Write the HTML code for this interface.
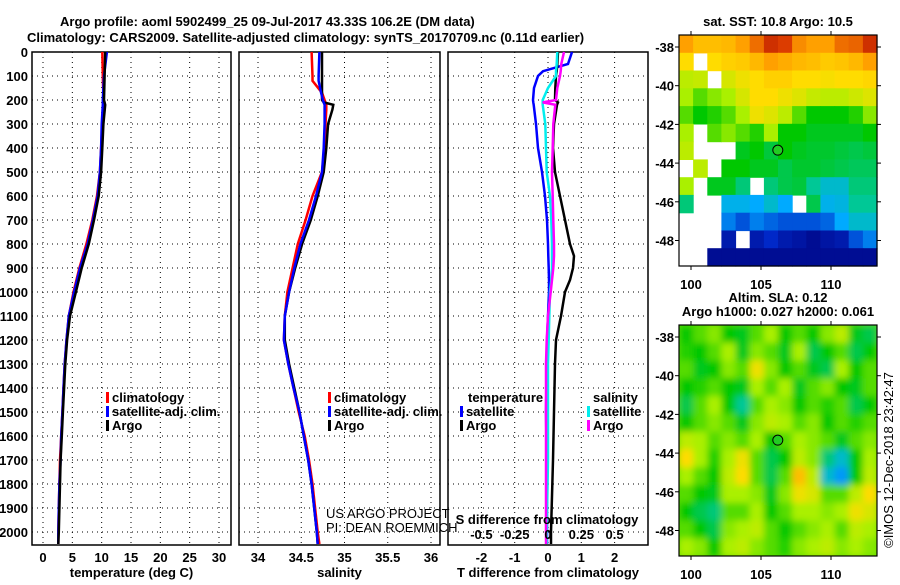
<!DOCTYPE html>
<html><head><meta charset="utf-8"><style>
body{margin:0;background:#fff;width:900px;height:580px;overflow:hidden}
svg text{font-family:"Liberation Sans",sans-serif;font-weight:bold;font-size:13px;fill:#000}
svg text.norm{font-weight:normal}
</style></head><body>
<svg id="c" width="900" height="580" xmlns="http://www.w3.org/2000/svg">
<defs>
<filter id="blur"><feGaussianBlur stdDeviation="3.5"/></filter>
<clipPath id="clipA"><rect x="679" y="325" width="198" height="231"/></clipPath>
</defs>
<text x="60" y="26" font-size="15">Argo profile: aoml 5902499_25 09-Jul-2017 43.33S 106.2E (DM data)</text>
<text x="27" y="42" font-size="15">Climatology: CARS2009. Satellite-adjusted climatology: synTS_20170709.nc (0.11d earlier)</text>
<g id="g"></g>
</svg>
<script>
// ---------- data ----------
const depthT=[0,100,200,220,300,400,500,600,700,800,900,1000,1100,1200,1300,1400,1500,1600,1700,1800,1900,2000,2050];
const tempArgo=[10.6,10.5,10.4,10.6,10.3,10.1,9.9,9.5,8.7,7.8,6.6,5.6,4.6,4.1,3.8,3.6,3.4,3.2,3.0,2.9,2.8,2.7,2.6];
const tempClim=[10.1,10.2,10.3,10.3,10.1,9.9,9.7,9.2,8.4,7.4,6.2,5.2,4.4,4.0,3.7,3.5,3.3,3.1,2.9,2.8,2.7,2.6,2.6];
const tempSat=[10.9,10.4,10.2,10.2,10.0,9.9,9.7,9.3,8.5,7.6,6.3,5.3,4.4,4.0,3.7,3.5,3.3,3.1,3.0,2.8,2.7,2.6,2.6];
const depthS=[0,100,120,170,200,210,220,240,300,400,500,600,700,800,900,1000,1100,1200,1300,1400,1500,1600,1700,1800,1900,2000,2050];
const salArgo=[34.74,34.74,34.74,34.74,34.74,34.76,34.87,34.86,34.81,34.79,34.76,34.69,34.61,34.51,34.43,34.36,34.31,34.31,34.36,34.42,34.48,34.53,34.58,34.62,34.65,34.68,34.69];
const salClim=[34.62,34.63,34.63,34.74,34.77,34.78,34.79,34.79,34.78,34.77,34.74,34.63,34.55,34.46,34.40,34.34,34.31,34.30,34.35,34.41,34.47,34.54,34.59,34.63,34.66,34.69,34.71];
const salSat=[34.71,34.70,34.70,34.73,34.75,34.76,34.77,34.77,34.77,34.76,34.74,34.67,34.59,34.49,34.42,34.36,34.31,34.30,34.35,34.41,34.48,34.53,34.58,34.62,34.65,34.68,34.69];
const depthD=[0,50,80,100,150,200,210,220,300,400,500,600,700,800,850,900,950,1000,1100,1200,1300,1500,1700,2000,2050];
const dTsat=[0.72,0.6,-0.15,-0.3,-0.42,-0.45,-0.44,-0.43,-0.36,-0.3,-0.18,-0.09,-0.03,0,0.01,0.02,0.03,0.03,0,-0.03,-0.04,-0.06,-0.04,-0.03,-0.03];
const dTargo=[0.3,0.28,0.26,0.24,0.22,0.21,0.3,0.27,0.18,0.15,0.21,0.36,0.51,0.66,0.78,0.75,0.66,0.51,0.39,0.24,0.21,0.18,0.15,0.09,0.09];
const dSsat=[0.07,0.065,0.06,0.06,0.0,-0.04,-0.04,-0.04,-0.02,-0.015,-0.01,0.015,0.025,0.03,0.03,0.03,0.025,0.015,0.01,0.005,0.0,0.0,0.0,-0.01,-0.01];
const dSargo=[0.12,0.1,0.095,0.09,0.07,0.06,-0.04,0.055,0.04,0.035,0.03,0.035,0.04,0.045,0.045,0.04,0.03,0.02,0.0,-0.01,-0.015,-0.015,-0.015,-0.015,-0.015];
const depthTicks=[0,100,200,300,400,500,600,700,800,900,1000,1100,1200,1300,1400,1500,1600,1700,1800,1900,2000];
const tTicks=[0,5,10,15,20,25,30];
const sTicks=[34,34.5,35,35.5,36];
const dTTicks=[-2,-1,0,1,2];
const dSTicks=[-0.5,-0.25,0,0.25,0.5];
const dSTickLabels=["-0.5","-0.25","0","0.25","0.5"];
const lonTicks=[100,105,110];
const latTicks=[-38,-40,-42,-44,-46,-48];
const N=null;
const sstGrid=[
[0.8,0.75,0.75,0.76,0.8,0.85,0.92,0.9,0.82,0.8,0.8,0.85,0.86,0.92],
[0.7,N,0.7,0.72,0.73,0.76,0.8,0.78,0.76,0.75,0.73,0.74,0.76,0.8],
[0.62,0.63,N,0.65,0.68,0.7,0.72,0.72,0.7,0.7,0.69,0.7,0.7,0.71],
[0.6,0.55,0.58,0.6,0.65,0.7,0.7,0.68,0.66,0.63,0.62,0.62,0.64,0.66],
[0.55,0.5,0.52,0.55,0.6,0.68,0.66,0.62,0.55,0.5,0.5,0.5,0.52,0.58],
[0.6,N,0.55,0.58,0.55,0.52,0.6,0.5,0.5,0.48,0.48,0.48,0.48,0.5],
[0.62,N,N,N,0.48,0.5,0.46,0.5,0.48,0.47,0.47,0.46,0.45,0.46],
[N,0.62,N,0.5,0.5,0.48,0.48,0.45,0.47,0.47,0.46,0.45,0.44,0.44],
[0.6,N,0.48,0.48,0.42,N,0.42,0.45,0.46,0.4,0.35,0.35,0.42,0.42],
[0.42,N,N,0.32,0.32,0.3,0.35,0.3,N,0.45,0.32,0.33,0.4,0.4],
[N,N,N,0.25,0.2,0.25,0.22,0.2,0.2,0.2,0.22,0.3,0.35,0.35],
[N,N,N,0.1,N,0.1,0.15,0.1,0.08,0.05,0.08,0.1,0.2,0.25],
[N,N,0.05,0.05,0.05,0.05,0.05,0.05,0.05,0.05,0.05,0.05,0.05,0.05]];
const slaGrid=[
[0.5,0.55,0.58,0.5,0.48,0.55,0.6,0.5,0.55,0.5,0.58,0.62,0.48,0.45],
[0.52,0.5,0.55,0.6,0.48,0.58,0.55,0.48,0.6,0.45,0.5,0.55,0.45,0.5],
[0.55,0.48,0.5,0.58,0.55,0.68,0.58,0.5,0.55,0.48,0.45,0.6,0.5,0.55],
[0.5,0.52,0.55,0.5,0.48,0.6,0.55,0.6,0.48,0.55,0.58,0.5,0.48,0.55],
[0.45,0.55,0.6,0.5,0.4,0.55,0.6,0.58,0.5,0.55,0.52,0.55,0.45,0.5],
[0.5,0.55,0.58,0.55,0.48,0.58,0.62,0.6,0.55,0.58,0.5,0.55,0.52,0.55],
[0.62,0.6,0.55,0.58,0.55,0.6,0.5,0.55,0.6,0.58,0.55,0.48,0.55,0.58],
[0.7,0.6,0.52,0.6,0.68,0.55,0.45,0.5,0.62,0.58,0.42,0.35,0.5,0.6],
[0.6,0.55,0.5,0.62,0.7,0.55,0.45,0.55,0.75,0.62,0.35,0.28,0.5,0.62],
[0.55,0.5,0.48,0.6,0.6,0.58,0.48,0.58,0.68,0.65,0.55,0.55,0.62,0.7],
[0.5,0.45,0.42,0.55,0.55,0.6,0.5,0.55,0.6,0.6,0.58,0.6,0.68,0.65],
[0.55,0.5,0.45,0.58,0.6,0.62,0.55,0.5,0.55,0.58,0.6,0.55,0.62,0.6],
[0.6,0.58,0.5,0.6,0.62,0.58,0.55,0.52,0.58,0.6,0.62,0.58,0.6,0.58]];
const argoLon=106.2, argoLat=-43.33;

// ---------- drawing ----------
const NS="http://www.w3.org/2000/svg";
const G=document.getElementById('g');
function el(tag,attrs,parent){const e=document.createElementNS(NS,tag);for(const k in attrs)e.setAttribute(k,attrs[k]);(parent||G).appendChild(e);return e;}
function txt(x,y,s,anchor,parent,size){const t=el('text',{x:x,y:y,'text-anchor':anchor||'start'},parent);if(size)t.setAttribute('font-size',size);t.textContent=s;return t;}
const yTop=52, yPer=0.24, yBot=545;
const yD=d=>yTop+d*yPer;

function panel(name,x0,x1,xs,ticks,labels,xlab,showDepth){
  const g=el('g',{});
  
  
  ticks.forEach((v,i)=>{
    el('line',{x1:xs(v),x2:xs(v),y1:yTop,y2:yBot,stroke:'#000','stroke-dasharray':'1,4','stroke-width':1},g);
    if(labels){const t=txt(xs(v),562,labels[i],'middle',g);}
  });
  depthTicks.forEach(d=>{
    el('line',{x1:x0,x2:x1,y1:yD(d),y2:yD(d),stroke:'#000','stroke-dasharray':'1,4','stroke-width':1},g);
    if(showDepth){const t=txt(28,yD(d)+5,String(d),'end',g);}
  });
  el('rect',{x:x0,y:yTop,width:x1-x0,height:yBot-yTop,fill:'none',stroke:'#000','stroke-width':1.5},g);
  if(xlab){const t=txt((x0+x1)/2,577,xlab,'middle',g);}
  return g;
}
function series(name,depths,vals,xs,color,g){
  const p=el('polyline',{points:depths.map((d,i)=>xs(vals[i]).toFixed(1)+','+yD(d).toFixed(1)).join(' '),fill:'none',stroke:color,'stroke-width':2.5},g);
  
  
}
function legend(g,x,y,items){
  items.forEach((it,i)=>{
    el('rect',{x:x,y:y+i*14-10,width:3,height:11,fill:it[1]},g);
    const t=txt(x+6,y+i*14,it[0],'start',g,12);
    
    
  });
}

// Panel 1 temperature
const xT=v=>43+v*(176/30);
const g1=panel('temperature-panel',32,231,xT,tTicks,tTicks.map(String),'temperature (deg C)',true);
series('temp-climatology',depthT,tempClim,xT,'#f00',g1);
series('temp-satellite',depthT,tempSat,xT,'#00f',g1);
series('temp-argo',depthT,tempArgo,xT,'#000',g1);
legend(g1,106,402,[['climatology','#f00'],['satellite-adj. clim.','#00f'],['Argo','#000']]);

// Panel 2 salinity
const xS=v=>258+(v-34)*86.5;
const g2=panel('salinity-panel',239,440,xS,sTicks,sTicks.map(String),'salinity',false);
series('sal-climatology',depthS,salClim,xS,'#f00',g2);
series('sal-argo',depthS,salArgo,xS,'#000',g2);
series('sal-satellite',depthS,salSat,xS,'#00f',g2);
legend(g2,328,402,[['climatology','#f00'],['satellite-adj. clim.','#00f'],['Argo','#000']]);
const a1=txt(326,518,'US ARGO PROJECT','start',g2,12);a1.setAttribute('class','norm');

const a2=txt(326,532,'PI: DEAN ROEMMICH','start',g2,12);a2.setAttribute('class','norm');


// Panel 3 differences
const xDT=v=>548+v*33.3;
const xDS=v=>548+v*133.2;
const g3=panel('difference-panel',448,648,xDT,dTTicks,dTTicks.map(String),'T difference from climatology',false);
series('dT-satellite',depthD,dTsat,xDT,'#00f',g3);
series('dT-argo',depthD,dTargo,xDT,'#000',g3);
series('dS-satellite',depthD,dSsat,xDS,'#0ee',g3);
series('dS-argo',depthD,dSargo,xDS,'#f0f',g3);
const tl=txt(468,402,'temperature','start',g3,12);
const sl=txt(593,402,'salinity','start',g3,12);
legend(g3,460,416,[['satellite','#00f'],['Argo','#000']]);
legend(g3,587,416,[['satellite','#0ee'],['Argo','#f0f']]);
const st=txt(547,524,'S difference from climatology','middle',g3,12);
dSTicks.forEach((v,i)=>{const t=txt(xDS(v),539,dSTickLabels[i],'middle',g3,12);});

// colormap (jet-like)
const cmapStops=[[0,[0,0,120]],[0.15,[0,40,200]],[0.3,[0,170,255]],[0.4,[0,200,150]],[0.5,[0,200,0]],[0.6,[170,240,0]],[0.7,[255,220,0]],[0.8,[255,160,0]],[0.9,[220,60,0]],[1,[150,0,0]]];
function cmap(v){for(let i=1;i<cmapStops.length;i++){if(v<=cmapStops[i][0]){const a=cmapStops[i-1],b=cmapStops[i],t=(v-a[0])/(b[0]-a[0]);return 'rgb('+a[1].map((c,k)=>Math.round(c+(b[1][k]-c)*t)).join(',')+')';}}return 'rgb(150,0,0)';}
const mx0=679,mx1=877;
const lonX=l=>691+(l-100)*14;
function mapPanel(name,y0,grid,titles,blur){
  const g=el('g',{});
  
  
  const latY=la=>y0+12+(-38-la)*19.35;
  const rows=grid.length,cols=grid[0].length,cw=(mx1-mx0)/cols,ch=231/rows;
  const cg=el('g',blur?{filter:'url(#blur)','clip-path':'url(#clipA)'}:{},g);
  if(blur)el('rect',{x:mx0-10,y:y0-10,width:220,height:251,fill:cmap(0.55)},cg);
  grid.forEach((r,i)=>r.forEach((v,j)=>{if(v===null)return;
    const c=el('rect',{x:(mx0+j*cw).toFixed(1),y:(y0+i*ch).toFixed(1),width:(cw+0.6).toFixed(1),height:(ch+0.6).toFixed(1),fill:cmap(v)},cg);
    
    
  }));
  el('rect',{x:mx0,y:y0,width:mx1-mx0,height:231,fill:'none',stroke:'#000','stroke-width':1.2},g);
  lonTicks.forEach(l=>{el('line',{x1:lonX(l),x2:lonX(l),y1:y0,y2:y0-4,stroke:'#000'},g);el('line',{x1:lonX(l),x2:lonX(l),y1:y0+231,y2:y0+235,stroke:'#000'},g);
    const t=txt(lonX(l),y0+254,String(l),'middle',g);});
  latTicks.forEach(la=>{el('line',{x1:mx0,x2:mx0-4,y1:latY(la),y2:latY(la),stroke:'#000'},g);el('line',{x1:mx1,x2:mx1+4,y1:latY(la),y2:latY(la),stroke:'#000'},g);
    const t=txt(674,latY(la)+5,String(la),'end',g);});
  const m=el('circle',{cx:lonX(argoLon),cy:latY(argoLat),r:5,fill:'#22cc22',stroke:'#000','stroke-width':1},g);
  
  titles.forEach(tt=>{const t=txt(778,tt[1],tt[0],'middle',g,12);});
}
mapPanel('sst-map',35,sstGrid,[['sat. SST: 10.8 Argo: 10.5',26]],false);
mapPanel('sla-map',325,slaGrid,[['Altim. SLA: 0.12',302],['Argo h1000: 0.027 h2000: 0.061',316]],true);
const cr=txt(0,0,'©IMOS 12-Dec-2018 23:42:47','middle',G,13);
cr.setAttribute('class','norm');
cr.setAttribute('transform','translate(893,460) rotate(-90)');


</script>
</body></html>
